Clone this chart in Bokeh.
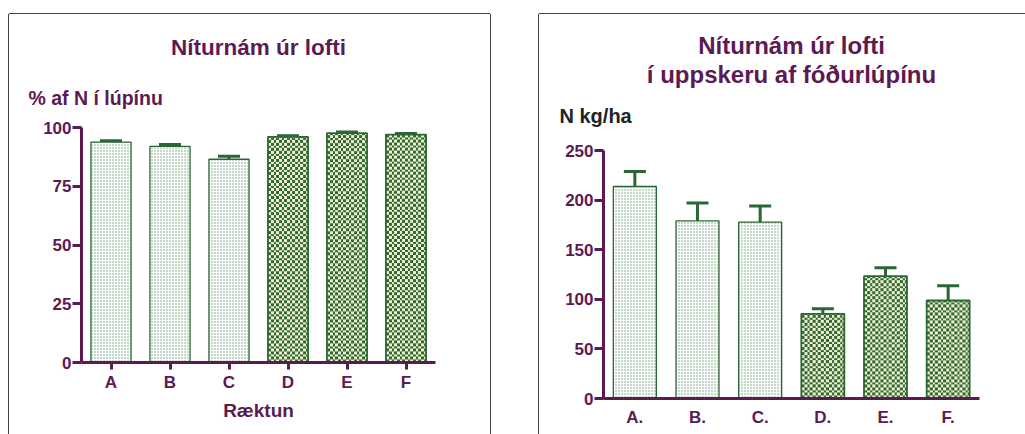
import numpy as np
from bokeh.plotting import figure
from bokeh.models import (ColumnDataSource, Whisker, TeeHead, Title, FixedTicker,
                          Spacer, FactorRange, Range1d)
from bokeh.layouts import row, column
from bokeh.embed import file_html
from bokeh.resources import INLINE

# ---------------- data ----------------
cats_left = ["A", "B", "C", "D", "E", "F"]
pct_values = [93.8, 92.0, 86.5, 96.0, 97.6, 97.0]
pct_errors = [0.6, 0.8, 1.3, 0.5, 0.5, 0.5]
left_ticks = [0, 25, 50, 75, 100]

cats_right = ["A.", "B.", "C.", "D.", "E.", "F."]
nkg_values = [213.7, 179.0, 177.7, 85.4, 123.3, 98.8]
nkg_errors = [15.1, 18.0, 16.3, 5.0, 8.4, 14.8]
right_ticks = [0, 50, 100, 150, 200, 250]

group_light = 3  # first three bars dotted, last three checkered

PURPLE = "#5c1a52"
GREEN = "#2b6636"
FONT = "Liberation Sans"
BOX = "#444444"
DARK_RGBA = (0x2d, 0x6a, 0x35, 255)
CREAM_RGBA = (0xf3, 0xee, 0xcd, 255)


def checker_image(w_px, h_px):
    """Checkerboard fill texture (pure styling) at screen resolution."""
    w_px = max(int(round(w_px)), 1)
    h_px = max(int(round(h_px)), 1)
    yy, xx = np.mgrid[0:h_px, 0:w_px]
    mask = (((xx * 3) // 8) + ((yy * 3) // 8)) % 2 == 0
    rgba = np.zeros((h_px, w_px, 4), dtype=np.uint8)
    rgba[mask] = DARK_RGBA
    rgba[~mask] = CREAM_RGBA
    return rgba.view(dtype=np.uint32).reshape((h_px, w_px))


def make_panel(cats, values, errors, ticks, ymax, width, height, borders,
               bar_width, x_tick_out, x_label_standoff, box_shadow):
    left, right, top, bottom = borders
    frame_w = width - left - right
    frame_h = height - top - bottom
    p = figure(x_range=FactorRange(*cats, range_padding=0), y_range=Range1d(0, ymax),
               width=width, height=height, output_backend="svg", toolbar_location=None,
               min_border_left=left, min_border_right=right, min_border_top=top,
               min_border_bottom=bottom, tools="")
    p.frame_align = False
    p.styles = {"box-shadow": box_shadow}
    p.outline_line_color = None
    p.xgrid.grid_line_color = None
    p.ygrid.grid_line_color = None
    p.background_fill_color = "white"
    p.border_fill_color = "white"

    cats_a, vals_a, errs_a = cats[:group_light], values[:group_light], errors[:group_light]
    cats_b, vals_b, errs_b = cats[group_light:], values[group_light:], errors[group_light:]
    src_a = ColumnDataSource(dict(x=cats_a, top=vals_a,
                                  up=[v + e for v, e in zip(vals_a, errs_a)]))
    src_b = ColumnDataSource(dict(x=cats_b, top=vals_b,
                                  up=[v + e for v, e in zip(vals_b, errs_b)]))

    for src in (src_a, src_b):
        w = Whisker(source=src, base="x", lower="top", upper="up", dimension="height",
                    line_color=GREEN, line_width=3, lower_head=None,
                    upper_head=TeeHead(size=22, line_color=GREEN, line_width=3))
        p.add_layout(w)

    # dotted bars
    p.vbar(x="x", top="top", width=bar_width, source=src_a, fill_color="white",
           line_color=GREEN, line_width=1.3, hatch_pattern="dot", hatch_scale=3,
           hatch_weight=1, hatch_color="#6a9c74")

    # checkered bars: texture image stretched over each bar (positioned by data)
    px_x = frame_w / len(cats)
    px_y = frame_h / ymax
    idx_b = [cats.index(c) for c in cats_b]
    img_src = ColumnDataSource(dict(
        image=[checker_image(bar_width * px_x, v * px_y) for v in vals_b],
        x=[i + 0.5 - bar_width / 2 for i in idx_b],
        y=[0] * len(vals_b),
        dw=[bar_width] * len(vals_b),
        dh=vals_b))
    p.image_rgba(image="image", x="x", y="y", dw="dw", dh="dh", source=img_src)
    p.vbar(x="x", top="top", width=bar_width, source=src_b, fill_color=None,
           line_color=GREEN, line_width=1.8)

    for ax in (p.xaxis[0], p.yaxis[0]):
        ax.axis_line_color = PURPLE
        ax.axis_line_width = 3
        ax.major_tick_line_color = PURPLE
        ax.major_tick_line_width = 3
        ax.minor_tick_line_color = None
        ax.major_tick_in = 0
        ax.major_label_text_color = PURPLE
        ax.major_label_text_font = FONT
        ax.major_label_text_font_style = "bold"
        ax.major_label_text_font_size = "17px"
    p.yaxis.ticker = FixedTicker(ticks=ticks)
    p.yaxis.major_tick_out = 9
    p.yaxis.major_label_standoff = 1
    p.xaxis.major_tick_out = x_tick_out
    if x_tick_out == 0:
        p.xaxis.major_tick_line_color = None
    p.xaxis.major_label_standoff = x_label_standoff
    return p


def add_title(p, text, size, color, standoff, align="center", offset=0):
    p.add_layout(Title(text=text, align=align, offset=offset, standoff=standoff,
                       text_color=color, text_font=FONT, text_font_style="bold",
                       text_font_size=size), "above")


# ---------------- left panel ----------------
p1 = make_panel(cats_left, pct_values, pct_errors, left_ticks, 100, 481, 420,
                (72, 55, 113, 72), 0.68, 7, 3,
                "0 -1px 0 0 %s, -1px 0 0 0 %s, 1px 0 0 0 %s" % (BOX, BOX, BOX))
p1.xaxis.axis_label = "Ræktun"
p1.xaxis.axis_label_text_color = PURPLE
p1.xaxis.axis_label_text_font = FONT
p1.xaxis.axis_label_text_font_style = "bold"
p1.xaxis.axis_label_text_font_size = "19px"
p1.xaxis.axis_label_standoff = 5
add_title(p1, "% af N í lúpínu", "19.5px", PURPLE, 37, align="left", offset=-53)
add_title(p1, "Níturnám úr lofti", "22.5px", PURPLE, 13)

# ---------------- right panel ----------------
p2 = make_panel(cats_right, nkg_values, nkg_errors, right_ticks, 250, 486, 420,
                (64, 46, 136, 36), 0.686, 0, 9,
                "0 -1px 0 0 %s, -1px 0 0 0 %s" % (BOX, BOX))
add_title(p2, "N kg/ha", "20px", "#222222", 47, align="left", offset=-44)
add_title(p2, "í uppskeru af fóðurlúpínu", "24px", PURPLE, -16)
add_title(p2, "Níturnám úr lofti", "24px", PURPLE, 16)

layout = column(Spacer(height=14),
                row(Spacer(width=9), p1, Spacer(width=49), p2))

open("out.html", "w").write(file_html(layout, INLINE))
